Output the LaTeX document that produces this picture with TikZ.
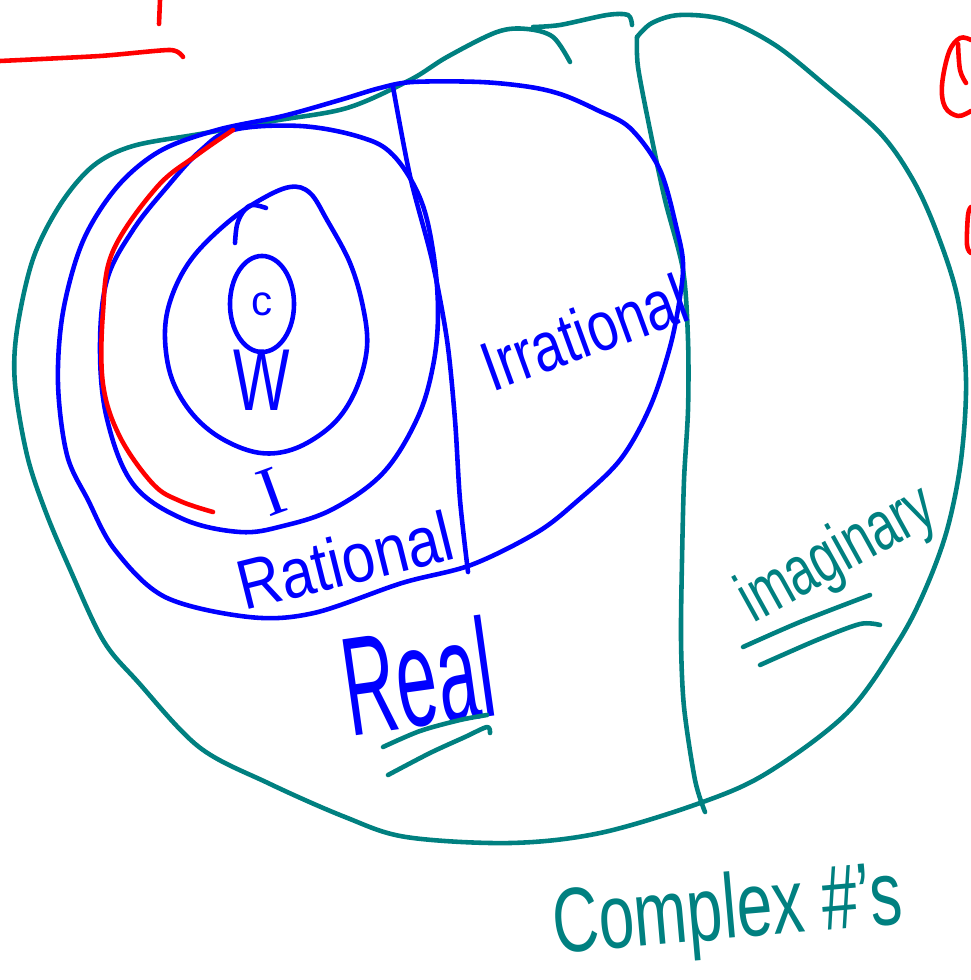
\documentclass[tikz,border=0pt]{standalone}
\usepackage{fontspec}
\setmainfont{Liberation Sans}
\newfontfamily\serifhand{Liberation Serif}
\usepackage{tikz}
\usetikzlibrary{shapes.geometric}
\definecolor{BlueInk}{RGB}{0,0,255}
\definecolor{TealInk}{RGB}{0,128,128}
\definecolor{RedInk}{RGB}{255,0,0}
\tikzset{
  pen/.style={line width=1.3pt,line cap=round,line join=round},
  blueink/.style={pen,draw=BlueInk},
  tealink/.style={pen,draw=TealInk},
  redink/.style={pen,draw=RedInk},
  bluetext/.style={inner sep=0pt,text=BlueInk},
  tealtext/.style={inner sep=0pt,text=TealInk}
}

\begin{document}
\begin{tikzpicture}[x=0.01cm,y=-0.01cm]
  \useasboundingbox (0,0) rectangle (971,980);
  % complex numbers
  \draw[tealink] plot[smooth,tension=0.55] coordinates {(637,37) (652,23) (680,15) (725,20) (775,45) (825,85) (880,133) (913,180) (937,233) (958,300) (966,380) (961,460) (947,530) (925,590) (898,642) (847,713) (767,773) (700,803) (600,833) (510,843) (406,837) (345,817) (268,783) (199,747) (138,682) (103,640) (69,567) (45,510) (27,455) (15,384) (17,330) (33,259) (60,205) (93,166) (133,146) (200,134) (273,121) (347,108) (410,80) (447,57) (497,32) (527,29) (553,37) (570,62)};
  \draw[tealink] plot[smooth,tension=0.5] coordinates {(533,27) (560,25) (607,15) (628,15) (632,25)};
  \draw[tealink] plot[smooth,tension=0.5] coordinates {(637,37) (638,67) (650,130) (665,200) (683,270) (688,340) (688,410) (684,480) (682,560) (681,640) (684,707) (695,780) (705,812)};
  % real numbers
  \draw[blueink] plot[smooth cycle,tension=0.55] coordinates {(413,82) (480,82) (530,87) (563,95) (597,110) (630,128) (660,170) (677,230) (683,263) (680,297) (670,347) (650,407) (620,460) (575,503) (536,533) (471,565) (402,583) (314,613) (249,617) (165,597) (115,550) (88,500) (67,455) (58,384) (63,312) (83,241) (117,187) (160,151) (217,130) (283,116) (340,100) (380,88)};
  \draw[blueink] plot[smooth,tension=0.5] coordinates {(393,87) (410,176) (432,260) (447,340) (455,420) (460,500) (468,572)};
  % rational and integers
  \draw[blueink] plot[smooth cycle,tension=0.6] coordinates {(233,130) (300,126) (360,137) (393,155) (420,198) (433,251) (438,312) (433,366) (417,419) (383,473) (333,509) (283,526) (240,532) (183,519) (133,484) (107,419) (100,348) (107,280) (133,230) (167,187) (200,151)};
  \draw[blueink] plot[smooth cycle,tension=0.6] coordinates {(290,187) (260,200) (227,223) (193,257) (173,293) (165,330) (170,373) (187,407) (213,433) (247,450) (277,453) (307,443) (337,420) (357,387) (367,347) (363,307) (350,263) (327,220) (310,193)};
  \draw[redink] plot[smooth,tension=0.6] coordinates {(233,130) (197,155) (157,187) (113,251) (103,312) (103,384) (120,437) (153,484) (180,501) (213,512)};
  \draw[blueink] plot[smooth,tension=0.6] coordinates {(235,243) (237,225) (243,212) (252,205) (266,208)};
  \node[blueink,draw,ellipse,minimum width=0.64cm,minimum height=0.96cm,inner sep=0pt,
    text=BlueInk,font=\fontsize{12}{12}\selectfont] (natural) at (262,304) {c};
  \node[bluetext,xscale=0.68,font=\fontsize{25}{25}\selectfont] (whole) at (262,380) {W};
  \node[bluetext,rotate=20,font=\serifhand\fontsize{20}{20}\selectfont] (integer) at (272,492) {I};
  \node[bluetext,rotate=14,xscale=0.85,font=\fontsize{20}{20}\selectfont] (rational) at (345,560) {Rational};
  \node[bluetext,rotate=20,xscale=0.78,font=\fontsize{20}{20}\selectfont] (irrational) at (584,332) {Irrational};
  \node[bluetext,rotate=8,xscale=0.52,font=\fontsize{40}{40}\selectfont] (real) at (418,676) {Real};
  \draw[tealink] plot[smooth,tension=0.5] coordinates {(383,747) (420,731) (460,720) (487,715)};
  \draw[tealink] plot[smooth,tension=0.5] coordinates {(388,775) (430,753) (465,737) (487,727) (490,733)};
  % imaginary
  \node[tealtext,rotate=29,xscale=0.7,font=\fontsize{20}{20}\selectfont] (imaginary) at (838,556) {imaginary};
  \draw[tealink] plot[smooth,tension=0.5] coordinates {(743,647) (800,622) (870,595)};
  \draw[tealink] plot[smooth,tension=0.5] coordinates {(760,665) (817,640) (860,624) (880,625)};
  \node[tealtext,rotate=5,xscale=0.7,font=\fontsize{26}{26}\selectfont] (complex) at (728,915) {Complex \#'s};
  % red marks
  \draw[redink] plot[smooth,tension=0.4] coordinates {(0,61) (100,56) (170,50) (183,57)};
  \draw[redink] (160,0) -- (159,24);
  \draw[redink] plot[smooth,tension=0.6] coordinates {(971,40) (960,38) (949,52) (942,85) (945,107) (958,116) (971,111)};
  \draw[redink] plot[smooth,tension=0.6] coordinates {(958,44) (960,70) (966,83)};
  \draw[redink] plot[smooth,tension=0.6] coordinates {(971,207) (968,215) (967,245) (971,253)};
\end{tikzpicture}
\end{document}
